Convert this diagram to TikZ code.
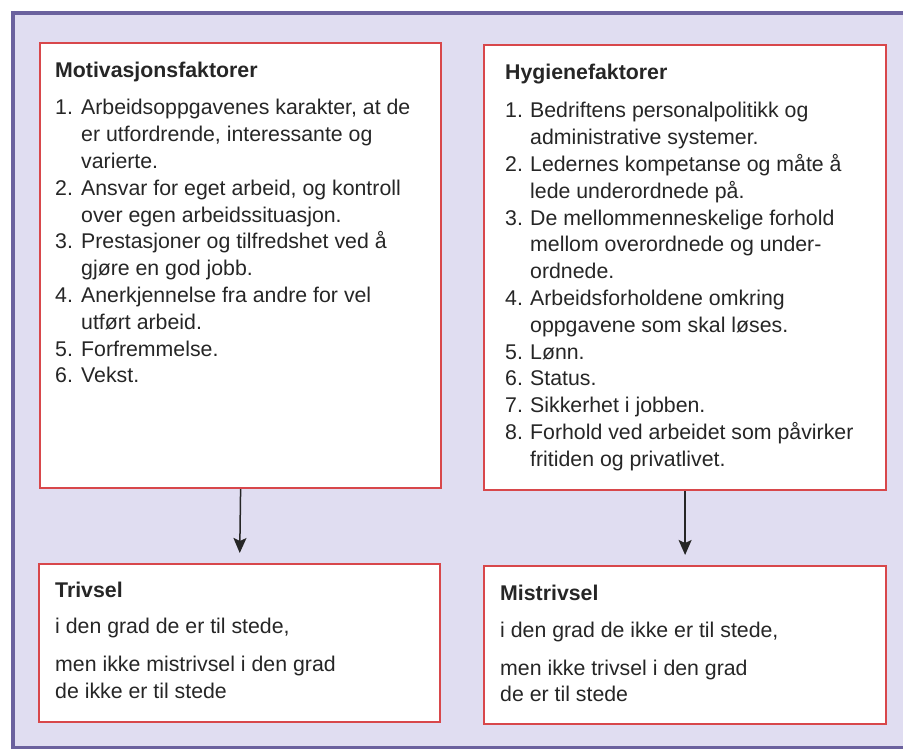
\documentclass[tikz,border=0pt]{standalone}
\usepackage{fontspec}
\setmainfont{Liberation Sans}
\usetikzlibrary{arrows.meta}
\definecolor{lav}{HTML}{E0DDF1}
\definecolor{frame}{HTML}{6B619E}
\definecolor{boxred}{HTML}{D8474B}
\definecolor{ink}{HTML}{262626}
\tikzset{
  redbox/.style={draw=boxred, line width=2.2pt, fill=white, inner sep=0pt, anchor=north west},
  listtext/.style={anchor=base west, inner sep=0pt, text=ink, font=\fontsize{21.3}{26.8}\selectfont},
  headtext/.style={anchor=base west, inner sep=0pt, text=ink, font=\fontsize{21.3}{26.8}\selectfont\bfseries},
  bodytext/.style={anchor=base west, inner sep=0pt, text=ink, font=\fontsize{21.3}{26.3}\selectfont},
  arr/.style={draw=ink, line width=1.5pt, -{Stealth[length=15pt,width=13pt,inset=3pt]}, shorten >=10pt}
}
\begin{document}
\begin{tikzpicture}[x=1pt,y=-1pt]
\useasboundingbox (0,0) rectangle (903,749);
% background frame
\fill[white] (0,0) rectangle (903,749);
\fill[lav] (13,13) rectangle (903,747);
\draw[frame, line width=4pt] (11,13) -- (903,13);
\draw[frame, line width=4pt] (13,11) -- (13,749);
\draw[frame, line width=3pt] (11,747) -- (903,747);
% boxes
\node[redbox, minimum width=401pt, minimum height=445pt] (mot) at (39,42) {};
\node[redbox, minimum width=402pt, minimum height=445pt] (hyg) at (483,44) {};
\node[redbox, minimum width=401pt, minimum height=158pt] (tri) at (38,563) {};
\node[redbox, minimum width=402pt, minimum height=158pt] (mis) at (483,565) {};
% arrows
\draw[arr] (mot.south) -- (tri.north);
\draw[arr] (hyg.south) -- (mis.north);
% left list
\node[headtext] (mothead) at (55,78) {Motivasjonsfaktorer};
\node[listtext] (motlist) at (55,115) {\begin{tabular}[t]{@{}p{26pt}@{}l@{}}
1. & Arbeidsoppgavenes karakter, at de\\
   & er utfordrende, interessante og\\
   & varierte.\\
2. & Ansvar for eget arbeid, og kontroll\\
   & over egen arbeidssituasjon.\\
3. & Prestasjoner og tilfredshet ved å\\
   & gjøre en god jobb.\\
4. & Anerkjennelse fra andre for vel\\
   & utført arbeid.\\
5. & Forfremmelse.\\
6. & Vekst.
\end{tabular}};
% right list
\node[headtext] (hyghead) at (505,80) {Hygienefaktorer};
\node[listtext] (hyglist) at (505,118) {\begin{tabular}[t]{@{}p{25pt}@{}l@{}}
1. & Bedriftens personalpolitikk og\\
   & administrative systemer.\\
2. & Ledernes kompetanse og måte å\\
   & lede underordnede på.\\
3. & De mellommenneskelige forhold\\
   & mellom overordnede og under-\\
   & ordnede.\\
4. & Arbeidsforholdene omkring\\
   & oppgavene som skal løses.\\
5. & Lønn.\\
6. & Status.\\
7. & Sikkerhet i jobben.\\
8. & Forhold ved arbeidet som påvirker\\
   & fritiden og privatlivet.
\end{tabular}};
% bottom boxes
\node[headtext] (trihead) at (55,597) {Trivsel};
\node[bodytext] (tritext) at (55,633) {\begin{tabular}[t]{@{}l@{}}
i den grad de er til stede,\\[12.5pt]
men ikke mistrivsel i den grad\\
de ikke er til stede
\end{tabular}};
\node[headtext] (mishead) at (500,600) {Mistrivsel};
\node[bodytext] (mistext) at (500,637) {\begin{tabular}[t]{@{}l@{}}
i den grad de ikke er til stede,\\[12pt]
men ikke trivsel i den grad\\
de er til stede
\end{tabular}};
\end{tikzpicture}
\end{document}
